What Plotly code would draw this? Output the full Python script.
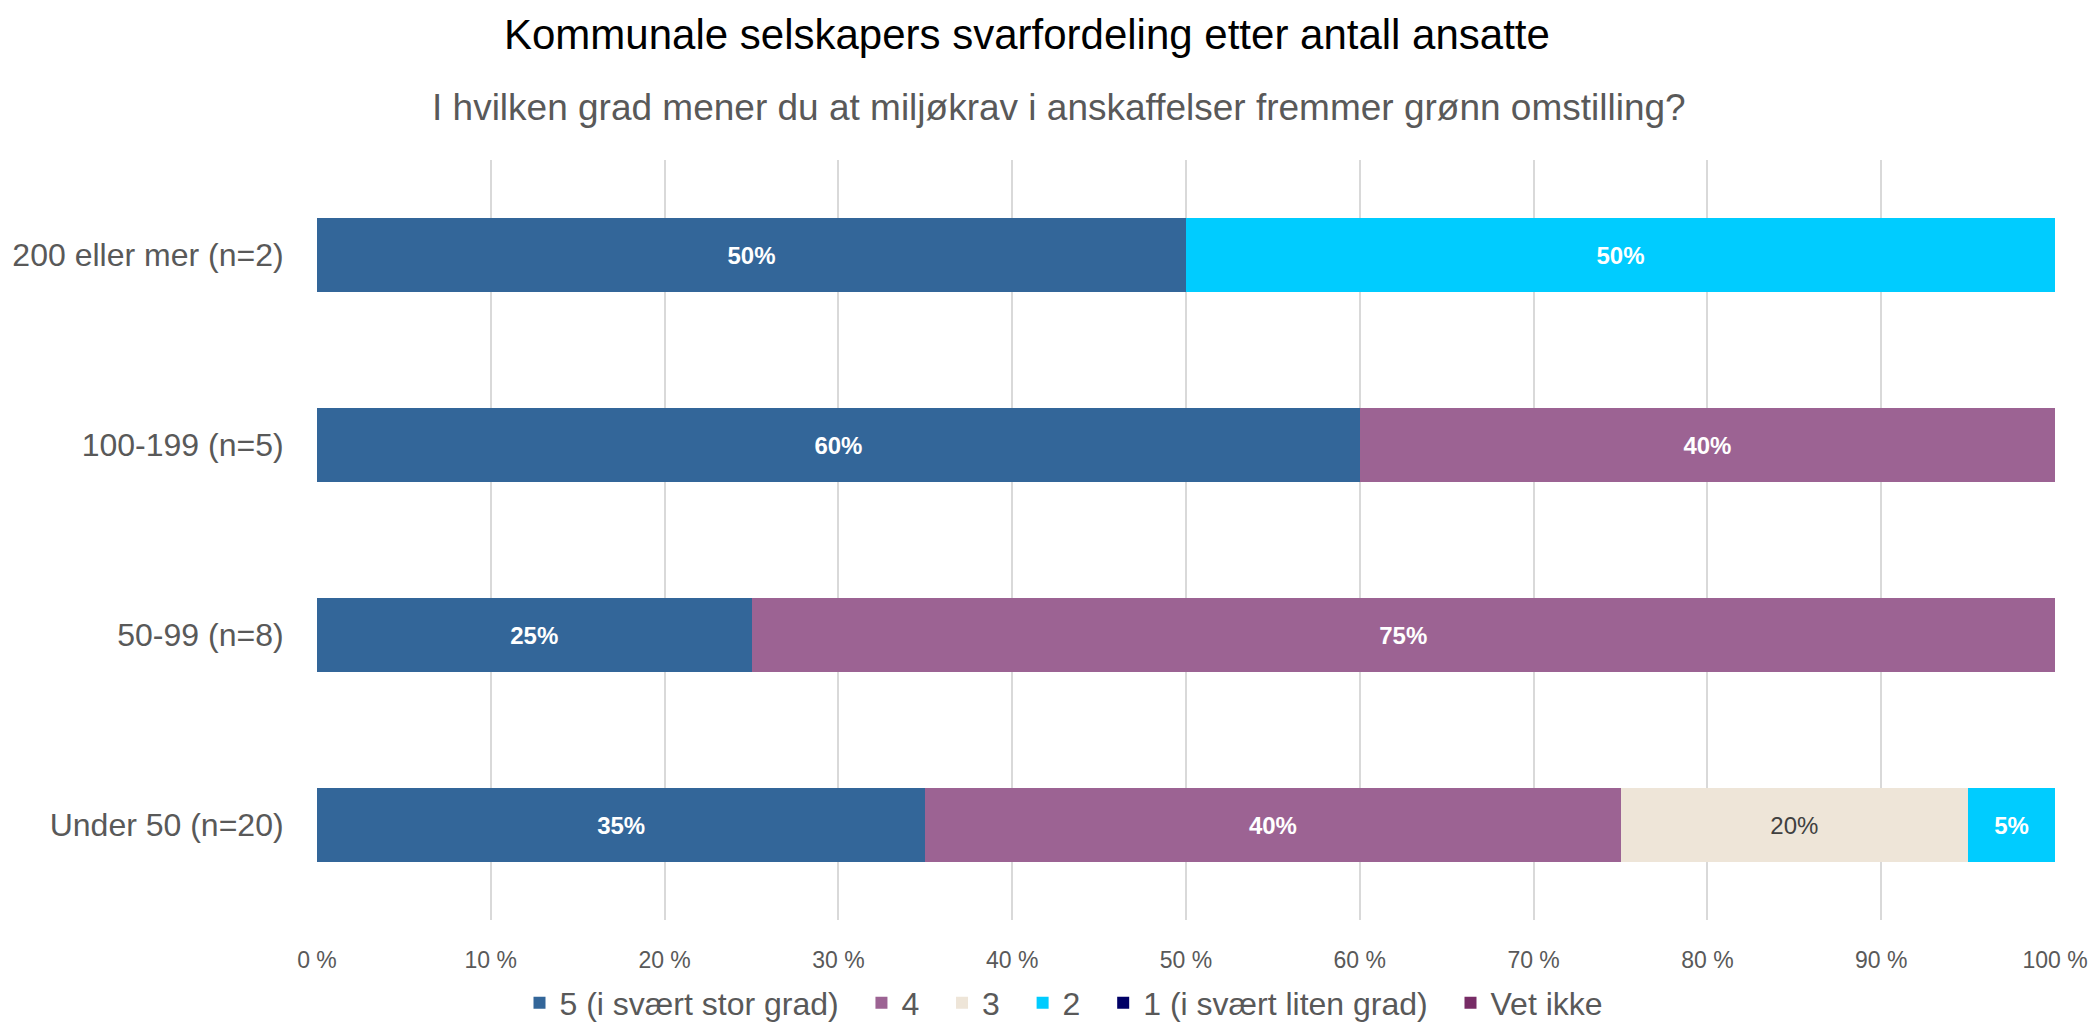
import plotly.graph_objects as go

categories = ["Under 50 (n=20)", "50-99 (n=8)", "100-199 (n=5)", "200 eller mer (n=2)"]
series_names = ["5 (i svært stor grad)", "4", "3", "2", "1 (i svært liten grad)", "Vet ikke"]
s5 = [35, 25, 60, 50]
s4 = [40, 75, 40, 0]
s3 = [20, 0, 0, 0]
s2 = [5, 0, 0, 50]
s1 = [0, 0, 0, 0]
vet_ikke = [0, 0, 0, 0]
x_ticks = [0, 10, 20, 30, 40, 50, 60, 70, 80, 90, 100]

FONT = "Liberation Sans, Arial"
colors = ["#336699", "#9C6393", "#EEE5D8", "#00CCFF", "#000066", "#772C66"]
bold_white = dict(color="white", size=24, family=FONT, weight="bold")
label_fonts = [bold_white, bold_white, dict(color="#404040", size=24, family=FONT),
               bold_white, bold_white, bold_white]

# the page body adds an 8px offset, so the figure is drawn 8px smaller
W, H, OFF = 2096 - 8, 1024 - 8, 8
PL, PR, PT, PB = 317, 2055, 160, 920  # plot area in screenshot pixels


def px(x):
    return (x - PL) / (PR - PL)


def py(y):
    return (PB - y) / (PB - PT)


fig = go.Figure()
all_series = [s5, s4, s3, s2, s1, vet_ikke]
for i, (name, vals, col, lf) in enumerate(zip(series_names, all_series, colors, label_fonts)):
    # pad legend entries a little so they spread out like the original
    legend_name = name + ("\u00a0\u00a0" if i < len(series_names) - 1 else "")
    fig.add_trace(go.Bar(
        y=categories, x=vals, name=legend_name, orientation="h",
        marker=dict(color=col, line=dict(width=0)),
        text=[f"{v}%" if v > 0 else "" for v in vals],
        textposition="inside", insidetextanchor="middle",
        insidetextfont=lf, textangle=0,
    ))

fig.update_layout(
    width=W, height=H,
    barmode="stack", bargap=0.61,
    plot_bgcolor="white", paper_bgcolor="white",
    font=dict(family=FONT, color="#595959"),
    margin=dict(l=PL - OFF, r=W - (PR - OFF), t=PT - OFF, b=H - (PB - OFF), autoexpand=False),
    showlegend=True,
    legend=dict(orientation="h", x=px(1064), xanchor="center", y=py(1003), yanchor="middle",
                font=dict(size=32, color="#595959"), traceorder="normal"),
    annotations=[
        dict(text="Kommunale selskapers svarfordeling etter antall ansatte", xref="paper", yref="paper",
             x=px(1027), y=py(34), xanchor="center", yanchor="middle",
             showarrow=False, font=dict(size=42, color="black")),
        dict(text="I hvilken grad mener du at miljøkrav i anskaffelser fremmer grønn omstilling?", xref="paper", yref="paper",
             x=px(1059), y=py(107), xanchor="center", yanchor="middle",
             showarrow=False, font=dict(size=37, color="#595959")),
    ],
)
fig.update_xaxes(range=[0, 100], tickvals=x_ticks, ticktext=[f"{t} %" for t in x_ticks],
                 showgrid=True, gridcolor="#D9D9D9", gridwidth=2, zeroline=False,
                 ticks="outside", ticklen=19, tickcolor="rgba(0,0,0,0)",
                 tickfont=dict(size=23, color="#595959"), automargin=False)
fig.update_yaxes(range=[-0.5, 3.5], showgrid=False, zeroline=False,
                 ticks="outside", ticklen=26, tickcolor="rgba(0,0,0,0)",
                 tickfont=dict(size=32, color="#595959"), automargin=False)

fig.write_html("out.html")
